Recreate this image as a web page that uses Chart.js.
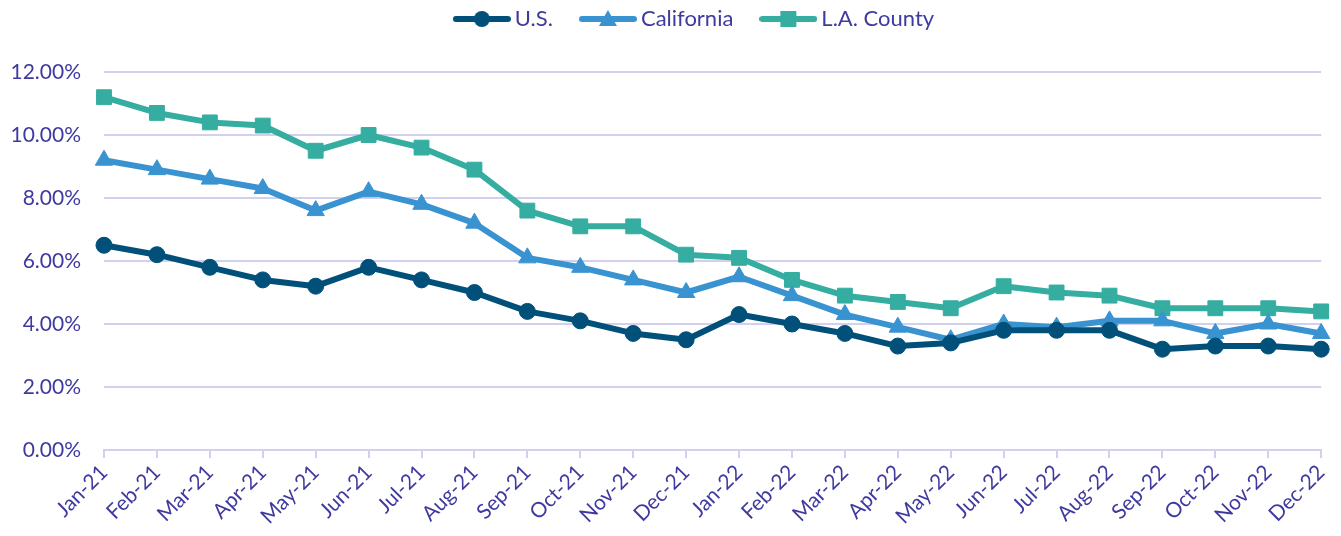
<!DOCTYPE html>
<html>
<head>
<meta charset="utf-8">
<script src="https://cdn.jsdelivr.net/npm/chart.js@4/dist/chart.umd.min.js"></script>
<style>
  html, body { margin: 0; padding: 0; background: #ffffff; }
  #wrap { width: 1341px; height: 536px; }
</style>
</head>
<body>
<div id="wrap"><canvas id="c" width="1341" height="536"></canvas></div>
<script>
const categories = ["Jan-21","Feb-21","Mar-21","Apr-21","May-21","Jun-21","Jul-21","Aug-21","Sep-21","Oct-21","Nov-21","Dec-21",
                    "Jan-22","Feb-22","Mar-22","Apr-22","May-22","Jun-22","Jul-22","Aug-22","Sep-22","Oct-22","Nov-22","Dec-22"];
const usValues = [6.5, 6.2, 5.8, 5.4, 5.2, 5.8, 5.4, 5.0, 4.4, 4.1, 3.7, 3.5,
                  4.3, 4.0, 3.7, 3.3, 3.4, 3.8, 3.8, 3.8, 3.2, 3.3, 3.3, 3.2];
const californiaValues = [9.2, 8.9, 8.6, 8.3, 7.6, 8.2, 7.8, 7.2, 6.1, 5.8, 5.4, 5.0,
                          5.5, 4.9, 4.3, 3.9, 3.5, 4.0, 3.9, 4.1, 4.1, 3.7, 4.0, 3.7];
const laCountyValues = [11.2, 10.7, 10.4, 10.3, 9.5, 10.0, 9.6, 8.9, 7.6, 7.1, 7.1, 6.2,
                        6.1, 5.4, 4.9, 4.7, 4.5, 5.2, 5.0, 4.9, 4.5, 4.5, 4.5, 4.4];
const seriesNames = ["U.S.", "California", "L.A. County"];
const yTicks = [0, 2, 4, 6, 8, 10, 12];

const COLORS = ["#00507A", "#3A93D1", "#35ADA1"];
const TEXT = "#3F3A9F";
const GRID = "#D3CFEE";
const FONT = "Lato, 'Open Sans', sans-serif";

function legendImage(color, shape) {
  const w = 58, h = 22;
  const c = document.createElement('canvas');
  c.width = w; c.height = h;
  const g = c.getContext('2d');
  g.strokeStyle = color; g.fillStyle = color;
  g.lineWidth = 6; g.lineCap = 'round';
  g.beginPath(); g.moveTo(3, h / 2); g.lineTo(w - 3, h / 2); g.stroke();
  const cx = w / 2, cy = h / 2;
  g.beginPath();
  if (shape === 'circle') { g.arc(cx, cy, 8, 0, Math.PI * 2); }
  else if (shape === 'triangle') { g.moveTo(cx, cy - 9); g.lineTo(cx + 9, cy + 7); g.lineTo(cx - 9, cy + 7); g.closePath(); }
  else { g.rect(cx - 8, cy - 8, 16, 16); }
  g.fill();
  return c;
}

const shapes = ['circle', 'triangle', 'rect'];
const radii = [8, 10, 10.5];
const allValues = [usValues, californiaValues, laCountyValues];
const legendImgs = shapes.map((s, i) => legendImage(COLORS[i], s));

const datasets = seriesNames.map((name, i) => ({
  label: name,
  data: allValues[i],
  borderColor: COLORS[i],
  backgroundColor: COLORS[i],
  pointBackgroundColor: COLORS[i],
  pointBorderColor: COLORS[i],
  pointBorderWidth: 1,
  borderWidth: 6,
  borderJoinStyle: 'round',
  borderCapStyle: 'round',
  tension: 0,
  pointStyle: shapes[i],
  pointRadius: radii[i],
  pointHoverRadius: radii[i],
  fill: false
}));

const LEGEND_PAD = 33;
const LEGEND_SHIFT_X = 33;
const LEGEND_TOP = 19 - LEGEND_PAD - 11;

const legendMover = {
  id: 'legendMover',
  afterLayout(chart) {
    const lg = chart.legend;
    if (!lg) return;
    const h = lg.bottom - lg.top;
    lg.left += LEGEND_SHIFT_X;
    lg.right += LEGEND_SHIFT_X;
    lg.top = LEGEND_TOP;
    lg.bottom = LEGEND_TOP + h;
  }
};

new Chart(document.getElementById('c'), {
  type: 'line',
  data: { labels: categories, datasets: datasets },
  plugins: [legendMover],
  options: {
    responsive: false,
    animation: false,
    events: [],
    layout: { padding: { left: 0, right: 13, top: 0, bottom: 0 } },
    plugins: {
      tooltip: { enabled: false },
      legend: {
        display: true,
        position: 'top',
        labels: {
          color: TEXT,
          font: { family: FONT, size: 22 },
          usePointStyle: true,
          pointStyleWidth: 44,
          padding: LEGEND_PAD,
          generateLabels: (chart) => chart.data.datasets.map((ds, i) => ({
            text: ds.label,
            fontColor: TEXT,
            pointStyle: legendImgs[i],
            fillStyle: COLORS[i],
            strokeStyle: COLORS[i],
            lineWidth: 0,
            hidden: false,
            datasetIndex: i
          }))
        }
      },
      title: {
        display: true,
        text: '',
        weight: 500,
        font: { size: 7, lineHeight: 1 },
        padding: { top: 0, bottom: 0 }
      }
    },
    scales: {
      x: {
        type: 'category',
        offset: false,
        grid: { display: true, drawOnChartArea: false, drawTicks: true, tickLength: 8, color: GRID, lineWidth: 2 },
        border: { display: true, color: GRID, width: 2 },
        ticks: {
          color: TEXT,
          font: { family: FONT, size: 21 },
          autoSkip: false,
          maxRotation: 45,
          minRotation: 45,
          padding: 2
        },
        afterFit: (s) => { s.height = 86; }
      },
      y: {
        min: 0,
        max: 12,
        grid: { display: true, drawTicks: false, color: GRID, lineWidth: 2 },
        border: { display: false },
        afterBuildTicks: (s) => { s.ticks = yTicks.map(v => ({ value: v })); },
        ticks: {
          color: TEXT,
          font: { family: FONT, size: 21 },
          padding: 23,
          callback: (v) => Number(v).toFixed(2) + '%'
        },
        afterFit: (s) => { s.width = 104; }
      }
    }
  }
});
</script>
</body>
</html>
